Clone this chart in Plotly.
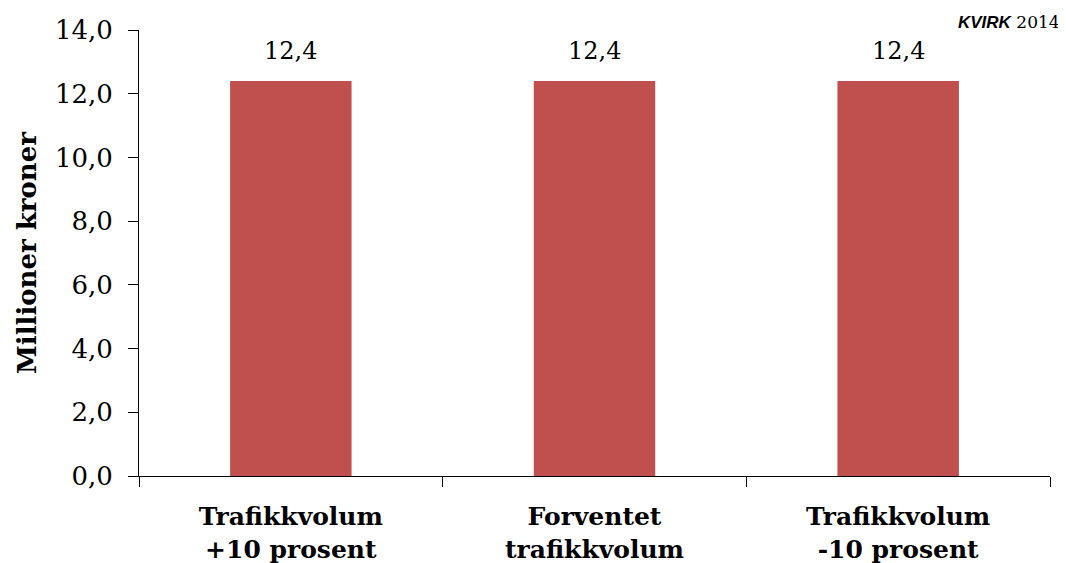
import plotly.graph_objects as go

categories = ["Trafikkvolum<br>+10 prosent", "Forventet<br>trafikkvolum", "Trafikkvolum<br>-10 prosent"]
values = [12.4, 12.4, 12.4]
y_ticks = [0, 2, 4, 6, 8, 10, 12, 14]

SERIF = "DejaVu Serif"

fig = go.Figure(go.Bar(
    x=categories, y=values,
    marker=dict(color="#C0504D", line=dict(width=0)),
    width=0.4,
    cliponaxis=False,
))

for c, v in zip(categories, values):
    fig.add_annotation(
        x=c, y=v, xref="x", yref="y",
        text=f"{v:.1f}".replace(".", ","),
        showarrow=False, yanchor="bottom", yshift=14,
        font=dict(family=SERIF, size=24, color="#000000"),
    )

fig.update_layout(
    width=1066, height=563,
    margin=dict(l=131, r=24, t=22, b=95, autoexpand=False),
    paper_bgcolor="white", plot_bgcolor="white",
    separators=", ",
    showlegend=False,
    font=dict(family=SERIF, color="#000000"),
)
fig.update_yaxes(
    range=[0, 14], tickvals=y_ticks, tickformat=".1f",
    ticks="outside", ticklen=10, tickcolor="#000000",
    showline=True, linecolor="#000000", linewidth=1,
    showgrid=False, zeroline=False,
    tickfont=dict(family=SERIF, size=26),
    ticklabelstandoff=10,
    title=dict(text="<b>Millioner kroner</b>", font=dict(family=SERIF, size=26), standoff=10),
)
fig.update_xaxes(
    ticks="outside", ticklen=10, tickcolor="#000000", tickson="boundaries",
    showline=True, linecolor="#000000", linewidth=1,
    showgrid=False,
    tickfont=dict(family=SERIF, size=25),
    ticklabelstandoff=18,
    tickvals=categories,
    ticktext=["<b>" + c + "</b>" for c in categories],
)
fig.add_annotation(
    xref="paper", yref="paper", x=1.0, y=1.0, xanchor="right", yanchor="middle",
    yshift=8, xshift=12,
    text="<b><i><span style='font-family:Liberation Sans, Arial'>KVIRK</span></i></b> 2014",
    showarrow=False, font=dict(family=SERIF, size=17, color="#000000"),
)

fig.write_html("out.html")
